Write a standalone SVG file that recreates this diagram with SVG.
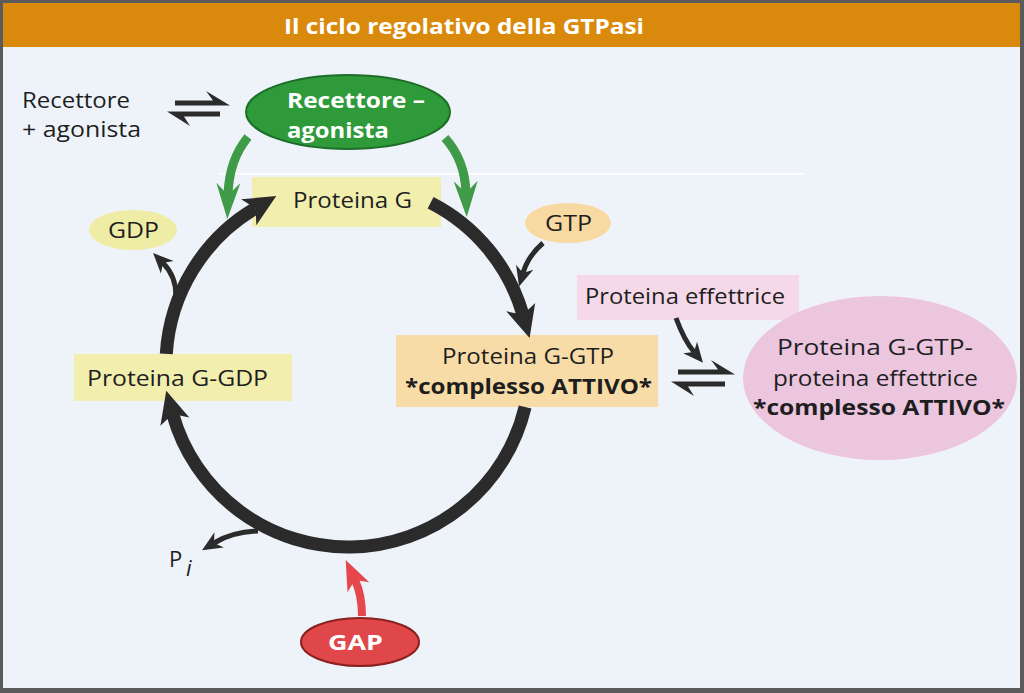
<svg xmlns="http://www.w3.org/2000/svg" width="1024" height="693" viewBox="0 0 1024 693">
<style>
.t{font-family:"Open Sans",Lato,"Liberation Sans",sans-serif;fill:#1e1e1e;font-size:22px}
.b{font-weight:bold}
.w{fill:#ffffff}
.ring{fill:none;stroke:#2b2b2b;stroke-width:13}
.thin{fill:none;stroke:#2b2b2b;stroke-width:5}
.grn{fill:none;stroke:#3f9b48;stroke-width:9}
.red{fill:none;stroke:#e5474c;stroke-width:8}
.harp{fill:#2b2b2b}
</style>
<defs>
<marker id="ah" markerUnits="userSpaceOnUse" orient="auto" refX="0" refY="0" viewBox="-10 -17 36 34" markerWidth="36" markerHeight="34" overflow="visible">
<path d="M24,0 L-8,-15 L0,0 L-8,15 Z" fill="#2b2b2b"/>
</marker>
<marker id="ahs" markerUnits="userSpaceOnUse" orient="auto" refX="0" refY="0" viewBox="-8 -10 24 20" markerWidth="24" markerHeight="20" overflow="visible">
<path d="M14,0 L-6,-9 L0,0 L-6,9 Z" fill="#2b2b2b"/>
</marker>
<marker id="ahg" markerUnits="userSpaceOnUse" orient="auto" refX="0" refY="0" viewBox="-14 -14 40 28" markerWidth="40" markerHeight="28" overflow="visible">
<path d="M24,0 L-12,-12 L0,0 L-12,12 Z" fill="#3f9b48"/>
</marker>
<marker id="ahr" markerUnits="userSpaceOnUse" orient="auto" refX="0" refY="0" viewBox="-10 -14 34 28" markerWidth="34" markerHeight="28" overflow="visible">
<path d="M22,0 L-8,-12 L0,0 L-8,12 Z" fill="#e5474c"/>
</marker>
</defs>
<rect x="0" y="0" width="1024" height="693" fill="#5b5b5b"/>
<rect x="3" y="47" width="1017" height="641" fill="#eef3fa"/>
<rect x="3" y="3" width="1017" height="44" fill="#d98a0c"/>
<text class="t b w" x="284" y="34" font-size="24" textLength="360" lengthAdjust="spacingAndGlyphs">Il ciclo regolativo della GTPasi</text>
<line x1="218" y1="174" x2="805" y2="174" stroke="#ffffff" stroke-width="1.5"/>

<g id="recettore-agonista-libero">
<text class="t" x="22" y="108" textLength="108" lengthAdjust="spacingAndGlyphs">Recettore</text>
<text class="t" x="22" y="137" textLength="119" lengthAdjust="spacingAndGlyphs">+ agonista</text>
</g>
<g id="recettore-agonista">
<ellipse cx="348" cy="112" rx="102" ry="37" fill="#2e9a3a" stroke="#1e6e28" stroke-width="2"/>
<text class="t b w" x="287" y="108" textLength="138" lengthAdjust="spacingAndGlyphs">Recettore –</text>
<text class="t b w" x="287" y="138" textLength="102" lengthAdjust="spacingAndGlyphs">agonista</text>
</g>
<g id="proteina-g">
<rect x="252" y="177" width="189" height="50" fill="#f1eeae"/>
<text class="t" x="293" y="208" textLength="119" lengthAdjust="spacingAndGlyphs">Proteina G</text>
</g>
<g id="gdp">
<ellipse cx="133" cy="230" rx="44" ry="20" fill="#efeca6"/>
<text class="t" x="108" y="238" textLength="51" lengthAdjust="spacingAndGlyphs">GDP</text>
</g>
<g id="gtp">
<ellipse cx="568" cy="223" rx="43" ry="20" fill="#f8d9a2"/>
<text class="t" x="545" y="231" textLength="47" lengthAdjust="spacingAndGlyphs">GTP</text>
</g>
<g id="proteina-g-gdp">
<rect x="74" y="354" width="218" height="47" fill="#f1eeae"/>
<text class="t" x="87" y="386" textLength="181" lengthAdjust="spacingAndGlyphs">Proteina G-GDP</text>
</g>
<g id="proteina-g-gtp">
<rect x="396" y="335" width="262" height="72" fill="#f8dca8"/>
<text class="t" x="442" y="364" textLength="172" lengthAdjust="spacingAndGlyphs">Proteina G-GTP</text>
<text class="t b" x="405" y="394" textLength="247" lengthAdjust="spacingAndGlyphs">*complesso ATTIVO*</text>
</g>
<g id="proteina-effettrice">
<rect x="577" y="275" width="222" height="45" fill="#f5d9e9"/>
<text class="t" x="585" y="304" textLength="200" lengthAdjust="spacingAndGlyphs">Proteina effettrice</text>
</g>
<g id="complesso-effettore">
<ellipse cx="880" cy="378" rx="137" ry="82" fill="#ecc5de"/>
<text class="t" x="777" y="355" textLength="196" lengthAdjust="spacingAndGlyphs">Proteina G-GTP-</text>
<text class="t" x="773" y="386" textLength="205" lengthAdjust="spacingAndGlyphs">proteina effettrice</text>
<text class="t b" x="753" y="415" textLength="252" lengthAdjust="spacingAndGlyphs">*complesso ATTIVO*</text>
</g>
<g id="pi">
<text class="t" x="169" y="567">P</text>
<text class="t" x="186" y="576" font-size="20" font-style="italic">i</text>
</g>
<g id="gap">
<ellipse cx="360" cy="642" rx="59" ry="24" fill="#e0474a" stroke="#8a2020" stroke-width="2"/>
<text class="t b w" x="328" y="650" textLength="55" lengthAdjust="spacingAndGlyphs">GAP</text>
</g>

<g id="connectors">
<path class="ring" d="M430.6,202.8 A182,182 0 0 1 522.96,314.84" marker-end="url(#ah)"/>
<path class="ring" d="M525.1,406.9 A182,182 0 0 1 172.7,413.9" marker-end="url(#ah)"/>
<path class="ring" d="M166.3,353.9 A182,182 0 0 1 255.6,208.2" marker-end="url(#ah)"/>
<path class="grn" d="M248,137 Q229,160 228,195" marker-end="url(#ahg)"/>
<path class="grn" d="M445,138 Q465,160 466,193" marker-end="url(#ahg)"/>
<path class="thin" d="M543,243 Q528,256 523,273" marker-end="url(#ahs)"/>
<path class="thin" d="M176,296 C176,282 172,272 163,263" marker-end="url(#ahs)"/>
<path class="thin" d="M258,531 Q232,532 214,543" marker-end="url(#ahs)"/>
<path class="thin" d="M676,318 Q684,340 694,352" marker-end="url(#ahs)"/>
<path class="red" d="M362,616 Q362,595 355,580" marker-end="url(#ahr)"/>
<path class="harp" d="M175,100.5 L213,100.5 L206,91 L230,105.5 L175,105.5 Z"/>
<path class="harp" d="M220,111.5 L167,111.5 L190,126 L184,116.5 L220,116.5 Z"/>
<path class="harp" d="M678,369.5 L718,369.5 L711,360 L735,374.5 L678,374.5 Z"/>
<path class="harp" d="M725,381.5 L671,381.5 L694,396 L688,386.5 L725,386.5 Z"/>
</g>
</svg>
